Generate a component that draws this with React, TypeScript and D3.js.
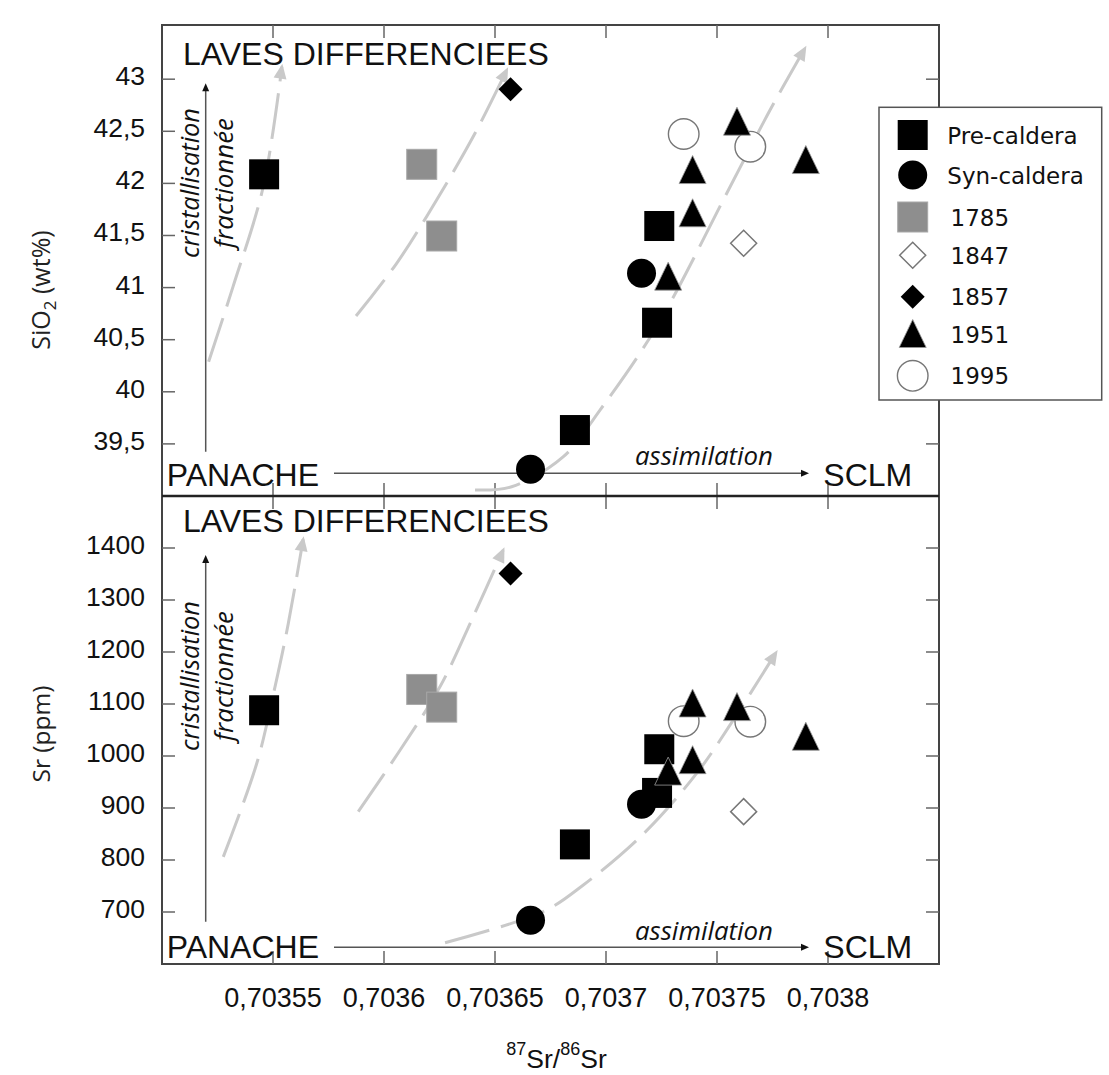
import React from 'react';
import * as d3 from 'd3';

// ---- axis ticks ----
const xTicks = [0.70355, 0.7036, 0.70365, 0.7037, 0.70375, 0.7038];
const xTickLabels = ['0,70355', '0,7036', '0,70365', '0,7037', '0,70375', '0,7038'];
const sioTicks = [39.5, 40, 40.5, 41, 41.5, 42, 42.5, 43];
const sioTickLabels = ['39,5', '40', '40,5', '41', '41,5', '42', '42,5', '43'];
const srTicks = [700, 800, 900, 1000, 1100, 1200, 1300, 1400];
const srTickLabels = ['700', '800', '900', '1000', '1100', '1200', '1300', '1400'];

// ---- series (87Sr/86Sr, SiO2 wt%, Sr ppm) ----
const preX = [0.703546, 0.703724, 0.703723, 0.703686];
const preSiO2 = [42.087, 41.591, 40.663, 39.633];
const preSr = [1088, 1013, 929, 830];

const synX = [0.703716, 0.703666];
const synSiO2 = [41.137, 39.256];
const synSr = [907, 684];

const y1785X = [0.703617, 0.703626];
const y1785SiO2 = [42.183, 41.495];
const y1785Sr = [1128, 1094];

const y1847X = [0.703762];
const y1847SiO2 = [41.425];
const y1847Sr = [893];

const y1857X = [0.703657];
const y1857SiO2 = [42.903];
const y1857Sr = [1351];

const y1951X = [0.703759, 0.703739, 0.703739, 0.703728, 0.70379];
const y1951SiO2 = [42.592, 42.128, 41.713, 41.105, 42.224];
const y1951Sr = [1094, 1101, 992, 970, 1037];

const y1995X = [0.703735, 0.703765];
const y1995SiO2 = [42.474, 42.352];
const y1995Sr = [1067, 1066];

const legendNames = ['Pre-caldera', 'Syn-caldera', '1785', '1847', '1857', '1951', '1995'];
const legendShapes = ['square', 'circle', 'graySquare', 'openDiamond', 'diamond', 'triangle', 'openCircle'];

// ---- trend curves (data coords) ----
const curveSioA: [number, number][] = [[0.703521, 40.289], [0.703532, 41.009], [0.7035456, 41.968], [0.703554, 43.12]];
const curveSioB: [number, number][] = [[0.7035874, 40.727], [0.7036057, 41.233], [0.7036237, 41.841], [0.703641, 42.481], [0.7036553, 43.088]];
const curveSioC: [number, number][] = [[0.703641, 39.058], [0.7036575, 39.089], [0.7036808, 39.377], [0.7036973, 39.825], [0.7037228, 40.625], [0.7037544, 41.905], [0.7037739, 42.704], [0.7037896, 43.296]];
const curveSrA: [number, number][] = [[0.7035276, 806], [0.7035427, 986], [0.7035509, 1133], [0.7035569, 1255], [0.7035636, 1417]];
const curveSrB: [number, number][] = [[0.7035884, 893], [0.7036072, 1011], [0.7036252, 1133], [0.7036402, 1268], [0.7036537, 1396]];
const curveSrC: [number, number][] = [[0.7036275, 641], [0.7036718, 701], [0.7036898, 752], [0.703717, 851], [0.7037409, 967], [0.7037573, 1069], [0.7037766, 1199]];

const ARIAL = 'Liberation Sans, Arial, Helvetica, sans-serif';
const HUMAN = 'Open Sans, Noto Sans, sans-serif';
const VERD = 'DejaVu Sans, Verdana, sans-serif';

function marker(shape: string, cx: number, cy: number, key: string) {
  switch (shape) {
    case 'square':
      return <rect key={key} x={cx - 15} y={cy - 15} width={30} height={30} fill="#000" />;
    case 'graySquare':
      return <rect key={key} x={cx - 15} y={cy - 15} width={30} height={30} fill="#8e8e8e" stroke="#a8a8a8" strokeWidth={1} />;
    case 'circle':
      return <circle key={key} cx={cx} cy={cy} r={14.5} fill="#000" />;
    case 'openCircle':
      return <circle key={key} cx={cx} cy={cy} r={15.3} fill="#fff" stroke="#777" strokeWidth={1.4} />;
    case 'openDiamond':
      return <polygon key={key} points={`${cx},${cy - 13} ${cx + 13},${cy} ${cx},${cy + 13} ${cx - 13},${cy}`} fill="#fff" stroke="#777" strokeWidth={1.5} />;
    case 'diamond':
      return <polygon key={key} points={`${cx},${cy - 12} ${cx + 12},${cy} ${cx},${cy + 12} ${cx - 12},${cy}`} fill="#000" />;
    case 'triangle':
      return <polygon key={key} points={`${cx},${cy - 14.5} ${cx + 13.5},${cy + 13.5} ${cx - 13.5},${cy + 13.5}`} fill="#000" stroke="#999" strokeWidth={0.8} />;
  }
  return null;
}

function arrowHead(p1: [number, number], p2: [number, number], len: number, hw: number, fill: string, key: string, ext = 0) {
  const dx = p2[0] - p1[0], dy = p2[1] - p1[1];
  const d = Math.hypot(dx, dy);
  const ux = dx / d, uy = dy / d;
  const tx = p2[0] + ux * ext, ty = p2[1] + uy * ext;
  const bx = tx - ux * len, by = ty - uy * len;
  const px = -uy, py = ux;
  return (
    <polygon key={key} fill={fill}
      points={`${tx},${ty} ${bx + px * hw},${by + py * hw} ${bx - px * hw},${by - py * hw}`} />
  );
}

export default function App() {
  const W = 1109, H = 1075;
  const L = 162, R = 939, T = 25, M = 496, B = 964;
  const x = d3.scaleLinear().domain([0.7035, 0.70385]).range([L, R]);
  const yTop = d3.scaleLinear().domain([39, 43.52]).range([M, T]);
  const yBot = d3.scaleLinear().domain([600, 1500]).range([B, M]);

  const panels = [
    {
      id: 'sio', y: yTop, top: T, bottom: M, ticks: sioTicks, labels: sioTickLabels,
      curves: [curveSioA, curveSioB, curveSioC],
      pre: preSiO2, syn: synSiO2, a1785: y1785SiO2, a1847: y1847SiO2, a1857: y1857SiO2, a1951: y1951SiO2, a1995: y1995SiO2,
      lavesY: 65, panacheY: 486, hArrowY: 473.3, assimY: 465, vTop: 83.3, vBottom: 451.7, cristY: 183,
    },
    {
      id: 'sr', y: yBot, top: M, bottom: B, ticks: srTicks, labels: srTickLabels,
      curves: [curveSrA, curveSrB, curveSrC],
      pre: preSr, syn: synSr, a1785: y1785Sr, a1847: y1847Sr, a1857: y1857Sr, a1951: y1951Sr, a1995: y1995Sr,
      lavesY: 531.7, panacheY: 958.3, hArrowY: 947.3, assimY: 940, vTop: 555, vBottom: 921.7, cristY: 676,
    },
  ];

  const gray = '#c9c9c9';

  return (
    <svg width={W} height={H} style={{ position: 'absolute', left: 0, top: 0, background: '#fff' }}>
      <rect x={0} y={0} width={W} height={H} fill="#fff" />
      {panels.map((p) => {
        const y = p.y;
        const line = d3.line<[number, number]>().x((d) => x(d[0])).y((d) => y(d[1])).curve(d3.curveCatmullRom.alpha(0.5));
        const els: any[] = [];
        // frame
        els.push(<rect key="frame" x={L} y={p.top} width={R - L} height={p.bottom - p.top} fill="none" stroke="#444" strokeWidth={2} />);
        xTicks.forEach((t, i) => {
          els.push(<line key={'xt' + i} x1={x(t)} x2={x(t)} y1={p.top} y2={p.top + 13} stroke="#666" strokeWidth={1.5} />);
          els.push(<line key={'xb' + i} x1={x(t)} x2={x(t)} y1={p.bottom} y2={p.bottom - 13} stroke="#666" strokeWidth={1.5} />);
        });
        p.ticks.forEach((t, i) => {
          els.push(<line key={'yl' + i} x1={L} x2={L + 13} y1={y(t)} y2={y(t)} stroke="#666" strokeWidth={1.5} />);
          els.push(<line key={'yr' + i} x1={R} x2={R - 13} y1={y(t)} y2={y(t)} stroke="#666" strokeWidth={1.5} />);
          els.push(<text key={'yla' + i} x={145} y={y(t) + 6} textAnchor="end" fontFamily={ARIAL} fontSize={26.5} fill="#111">{p.labels[i]}</text>);
        });
        // trend curves
        p.curves.forEach((c, i) => {
          els.push(<path key={'c' + i} d={line(c) || ''} fill="none" stroke={gray} strokeWidth={3} strokeDasharray="46 12" />);
          const n = c.length;
          const p1: [number, number] = [x(c[n - 2][0]), y(c[n - 2][1])];
          const p2: [number, number] = [x(c[n - 1][0]), y(c[n - 1][1])];
          els.push(arrowHead(p1, p2, 15, 6.5, gray, 'ah' + i, 3));
        });
        // texts
        els.push(<text key="laves" x={183} y={p.lavesY} fontFamily={ARIAL} fontSize={32} fill="#111">LAVES DIFFERENCIEES</text>);
        els.push(<text key="pan" x={166.7} y={p.panacheY} fontFamily={ARIAL} fontSize={32} fill="#111">PANACHE</text>);
        els.push(<text key="sclm" x={823.3} y={p.panacheY} fontFamily={ARIAL} fontSize={32} fill="#111">SCLM</text>);
        els.push(<line key="harr" x1={334} x2={802} y1={p.hArrowY} y2={p.hArrowY} stroke="#555" strokeWidth={1.5} />);
        els.push(arrowHead([334, p.hArrowY], [809, p.hArrowY], 8, 3.5, '#111', 'harrh'));
        els.push(<text key="assim" x={704} y={p.assimY} textAnchor="middle" fontFamily={HUMAN} fontStyle="italic" fontSize={25} textLength={138} lengthAdjust="spacingAndGlyphs" fill="#111">assimilation</text>);
        els.push(<line key="varr" x1={205.7} x2={205.7} y1={p.vBottom} y2={p.vTop + 7} stroke="#555" strokeWidth={1.5} />);
        els.push(arrowHead([205.7, p.vBottom], [205.7, p.vTop], 8, 3.5, '#111', 'varrh'));
        els.push(<text key="crist" transform={`translate(198.5,${p.cristY}) rotate(-90)`} textAnchor="middle" fontFamily={HUMAN} fontStyle="italic" fontSize={25} textLength={150} lengthAdjust="spacingAndGlyphs" fill="#111">cristallisation</text>);
        els.push(<text key="frac" transform={`translate(233,${p.cristY}) rotate(-90)`} textAnchor="middle" fontFamily={HUMAN} fontStyle="italic" fontSize={25} textLength={130} lengthAdjust="spacingAndGlyphs" fill="#111">fractionnée</text>);
        // markers
        preX.forEach((v, i) => els.push(marker('square', x(v), y(p.pre[i]), 'pre' + i)));
        y1785X.forEach((v, i) => els.push(marker('graySquare', x(v), y(p.a1785[i]), 'g' + i)));
        y1847X.forEach((v, i) => els.push(marker('openDiamond', x(v), y(p.a1847[i]), 'od' + i)));
        y1857X.forEach((v, i) => els.push(marker('diamond', x(v), y(p.a1857[i]), 'fd' + i)));
        synX.forEach((v, i) => els.push(marker('circle', x(v), y(p.syn[i]), 'syn' + i)));
        y1995X.forEach((v, i) => els.push(marker('openCircle', x(v), y(p.a1995[i]), 'oc' + i)));
        y1951X.forEach((v, i) => els.push(marker('triangle', x(v), y(p.a1951[i]), 'tr' + i)));
        return <g key={p.id}>{els}</g>;
      })}
      {/* separator */}
      <line x1={L} x2={R} y1={M} y2={M} stroke="#222" strokeWidth={2.5} />

      {/* axis titles */}
      <text transform="translate(50,290) rotate(-90)" textAnchor="middle" fontFamily={HUMAN} fontSize={25} fill="#222">
        SiO<tspan dy={6} fontSize={17}>2</tspan><tspan dy={-6}> (wt%)</tspan>
      </text>
      <text transform="translate(50,734) rotate(-90)" textAnchor="middle" fontFamily={HUMAN} fontSize={24.5} fill="#222">Sr (ppm)</text>
      {xTicks.map((t, i) => (
        <text key={'xl' + i} x={x(t)} y={1007.3} textAnchor="middle" fontFamily={ARIAL} fontSize={27} fill="#111">{xTickLabels[i]}</text>
      ))}
      <text x={556.5} y={1068} textAnchor="middle" fontFamily={ARIAL} fontSize={26.5} fill="#111">
        <tspan fontSize={18} dy={-13.5}>87</tspan><tspan dy={13.5}>Sr/</tspan><tspan fontSize={18} dy={-13.5}>86</tspan><tspan dy={13.5}>Sr</tspan>
      </text>

      {/* legend */}
      <rect x={879} y={107.3} width={222.7} height={292.7} fill="#fff" stroke="#555" strokeWidth={1.5} />
      {legendNames.map((n, i) => {
        const cys = [135, 175, 217, 255.3, 296.7, 334, 375.8];
        const cy = cys[i];
        return (
          <g key={'lg' + i}>
            {marker(legendShapes[i], 912.7, cy, 'lm' + i)}
            <text x={i < 2 ? 947.3 : 950.5} y={cy + 8.5} fontFamily={VERD} fontSize={23} fill="#111">{n}</text>
          </g>
        );
      })}
    </svg>
  );
}
